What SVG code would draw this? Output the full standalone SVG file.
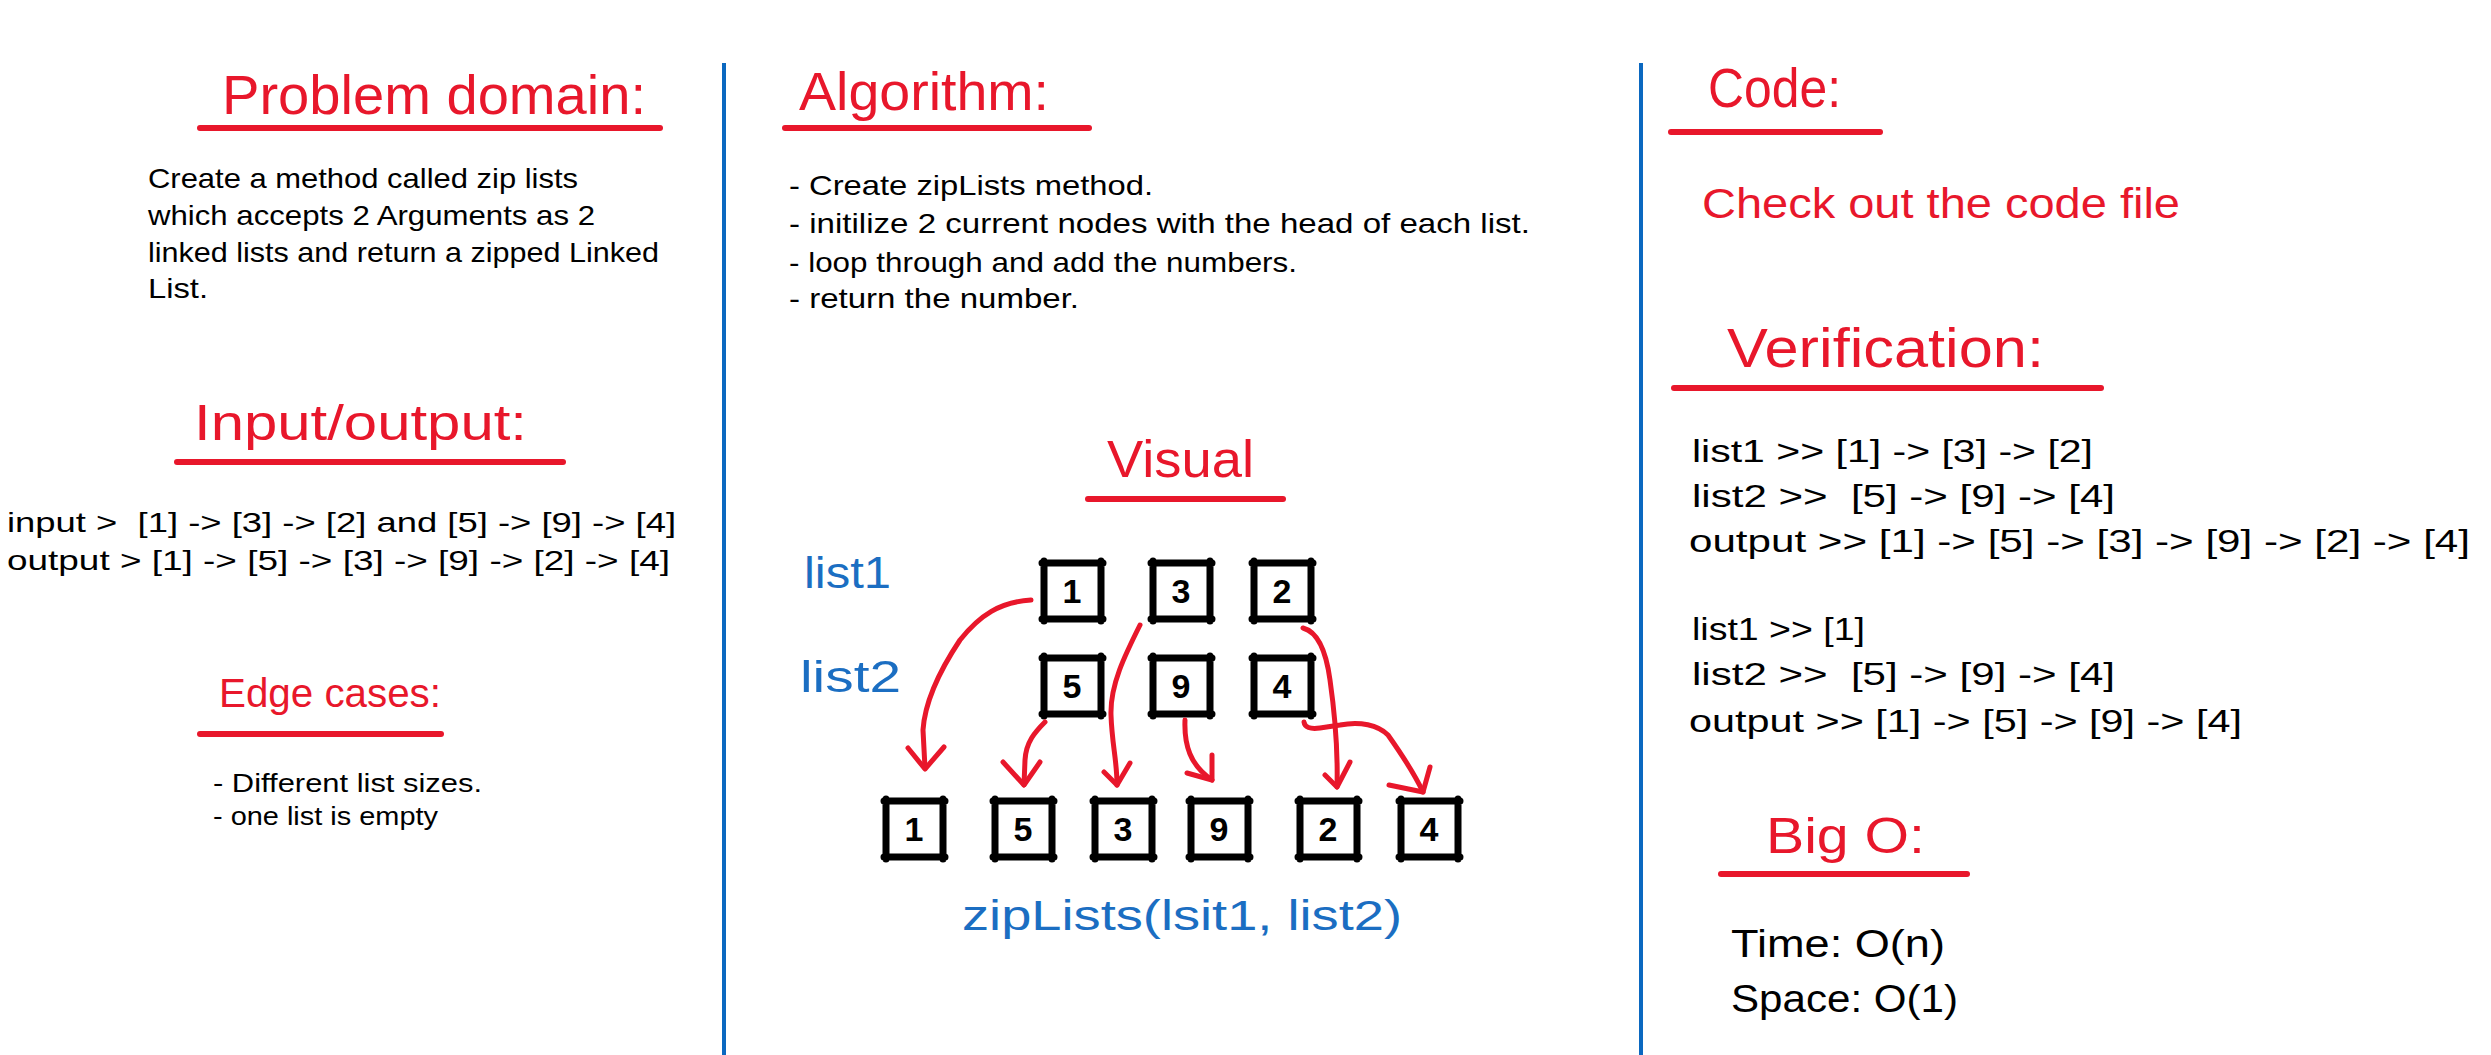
<svg xmlns="http://www.w3.org/2000/svg" xmlns:xlink="http://www.w3.org/1999/xlink" width="2491" height="1055" viewBox="0 0 2491 1055">
<style>
  text { font-family: "Liberation Sans", Arial, sans-serif; white-space: pre; }
  .head { fill: #e8172b; }
  .red { fill: #e8172b; }
  .body { fill: #000000; }
  .blue { fill: #1b6ec2; }
  .uline { stroke: #e8172b; stroke-width: 6; stroke-linecap: round; fill: none; }
  .divider { stroke: #0b68c0; stroke-width: 4; fill: none; }
  .box { stroke: #000; stroke-width: 7; stroke-linecap: round; fill: none; }
  .digit { font-weight: bold; font-size: 34px; fill: #000; text-anchor: middle; }
  .arrow { stroke: #e8172b; stroke-width: 5; stroke-linecap: round; stroke-linejoin: round; fill: none; }
</style>
<defs>
  <path id="box" class="box" d="M-2,0 H59 M57,-2 V58 M59,56 H-2 M0,58 V-2"/>
</defs>
<rect width="2491" height="1055" fill="#ffffff"/>

<g id="dividers">
  <line class="divider" x1="724" y1="63" x2="724" y2="1055"/>
  <line class="divider" x1="1641" y1="63" x2="1641" y2="1055"/>
</g>

<g id="problem-domain">
  <text class="head" x="222" y="114" font-size="56" textLength="424" lengthAdjust="spacingAndGlyphs">Problem domain:</text>
  <line class="uline" x1="200" y1="128" x2="660" y2="128"/>
  <text class="body" x="148" y="188" font-size="28" textLength="430" lengthAdjust="spacingAndGlyphs">Create a method called zip lists</text>
  <text class="body" x="148" y="225" font-size="28" textLength="447" lengthAdjust="spacingAndGlyphs">which accepts 2 Arguments as 2</text>
  <text class="body" x="148" y="262" font-size="28" textLength="511" lengthAdjust="spacingAndGlyphs">linked lists and return a zipped Linked</text>
  <text class="body" x="148" y="298" font-size="28" textLength="60" lengthAdjust="spacingAndGlyphs">List.</text>
</g>

<g id="input-output">
  <text class="head" x="194" y="440" font-size="50" textLength="333" lengthAdjust="spacingAndGlyphs">Input/output:</text>
  <line class="uline" x1="177" y1="462" x2="563" y2="462"/>
  <text class="body" x="7" y="532" font-size="28" textLength="669" lengthAdjust="spacingAndGlyphs" xml:space="preserve">input &gt;  [1] -&gt; [3] -&gt; [2] and [5] -&gt; [9] -&gt; [4]</text>
  <text class="body" x="7" y="570" font-size="28" textLength="663" lengthAdjust="spacingAndGlyphs">output &gt; [1] -&gt; [5] -&gt; [3] -&gt; [9] -&gt; [2] -&gt; [4]</text>
</g>

<g id="edge-cases">
  <text class="head" x="219" y="707" font-size="40" textLength="222" lengthAdjust="spacingAndGlyphs">Edge cases:</text>
  <line class="uline" x1="200" y1="734" x2="441" y2="734"/>
  <text class="body" x="213" y="792" font-size="26" textLength="269" lengthAdjust="spacingAndGlyphs">- Different list sizes.</text>
  <text class="body" x="213" y="825" font-size="26" textLength="225" lengthAdjust="spacingAndGlyphs">- one list is empty</text>
</g>

<g id="algorithm">
  <text class="head" x="799" y="110" font-size="54" textLength="250" lengthAdjust="spacingAndGlyphs">Algorithm:</text>
  <line class="uline" x1="785" y1="128" x2="1089" y2="128"/>
  <text class="body" x="789" y="195" font-size="28" textLength="364" lengthAdjust="spacingAndGlyphs">- Create zipLists method.</text>
  <text class="body" x="789" y="233" font-size="28" textLength="741" lengthAdjust="spacingAndGlyphs">- initilize 2 current nodes with the head of each list.</text>
  <text class="body" x="789" y="272" font-size="28" textLength="508" lengthAdjust="spacingAndGlyphs">- loop through and add the numbers.</text>
  <text class="body" x="789" y="308" font-size="28" textLength="290" lengthAdjust="spacingAndGlyphs">- return the number.</text>
</g>

<g id="visual">
  <text class="head" x="1107" y="477" font-size="52" textLength="147" lengthAdjust="spacingAndGlyphs">Visual</text>
  <line class="uline" x1="1088" y1="499" x2="1283" y2="499"/>
  <text class="blue" x="804" y="588" font-size="44" textLength="87" lengthAdjust="spacingAndGlyphs">list1</text>
  <text class="blue" x="800" y="692" font-size="44" textLength="101" lengthAdjust="spacingAndGlyphs">list2</text>
  <text class="blue" x="962" y="930" font-size="42" textLength="440" lengthAdjust="spacingAndGlyphs">zipLists(lsit1, list2)</text>
</g>

<g id="node-l1-1"><use xlink:href="#box" x="1044" y="563"/><text class="digit" x="1072" y="603">1</text></g>
<g id="node-l1-3"><use xlink:href="#box" x="1153" y="563"/><text class="digit" x="1181" y="603">3</text></g>
<g id="node-l1-2"><use xlink:href="#box" x="1254" y="563"/><text class="digit" x="1282" y="603">2</text></g>
<g id="node-l2-5"><use xlink:href="#box" x="1044" y="658"/><text class="digit" x="1072" y="698">5</text></g>
<g id="node-l2-9"><use xlink:href="#box" x="1153" y="658"/><text class="digit" x="1181" y="698">9</text></g>
<g id="node-l2-4"><use xlink:href="#box" x="1254" y="658"/><text class="digit" x="1282" y="698">4</text></g>
<g id="node-z-1"><use xlink:href="#box" x="886" y="801"/><text class="digit" x="914" y="841">1</text></g>
<g id="node-z-5"><use xlink:href="#box" x="995" y="801"/><text class="digit" x="1023" y="841">5</text></g>
<g id="node-z-3"><use xlink:href="#box" x="1095" y="801"/><text class="digit" x="1123" y="841">3</text></g>
<g id="node-z-9"><use xlink:href="#box" x="1191" y="801"/><text class="digit" x="1219" y="841">9</text></g>
<g id="node-z-2"><use xlink:href="#box" x="1300" y="801"/><text class="digit" x="1328" y="841">2</text></g>
<g id="node-z-4"><use xlink:href="#box" x="1401" y="801"/><text class="digit" x="1429" y="841">4</text></g>

<g id="connectors">
  <path class="arrow" d="M1031,600 C1000,602 980,615 960,640 C940,670 925,700 923,730 L925,768"/>
  <path class="arrow" d="M908,748 L925,769 L944,747"/>
  <path class="arrow" d="M1045,722 C1035,732 1026,742 1025,760 L1024,785"/>
  <path class="arrow" d="M1003,762 L1024,785 L1040,762"/>
  <path class="arrow" d="M1140,625 C1125,655 1110,685 1111,715 C1112,745 1117,760 1117,785"/>
  <path class="arrow" d="M1104,772 L1117,785 L1130,763"/>
  <path class="arrow" d="M1185,720 C1184,745 1190,765 1212,780"/>
  <path class="arrow" d="M1187,773 L1212,780 L1212,755"/>
  <path class="arrow" d="M1303,628 C1318,632 1326,650 1330,680 C1335,715 1338,750 1337,787"/>
  <path class="arrow" d="M1325,775 L1337,787 L1350,762"/>
  <path class="arrow" d="M1304,722 Q1305,730 1320,728 L1340,725 C1360,721 1378,725 1388,735 C1400,752 1415,775 1423,792"/>
  <path class="arrow" d="M1389,785 L1423,792 L1430,767"/>
</g>

<g id="code">
  <text class="head" x="1708" y="107" font-size="56" textLength="133" lengthAdjust="spacingAndGlyphs">Code:</text>
  <line class="uline" x1="1671" y1="132" x2="1880" y2="132"/>
  <text class="red" x="1702" y="218" font-size="42" textLength="478" lengthAdjust="spacingAndGlyphs">Check out the code file</text>
</g>

<g id="verification">
  <text class="head" x="1727" y="367" font-size="56" textLength="317" lengthAdjust="spacingAndGlyphs">Verification:</text>
  <line class="uline" x1="1674" y1="388" x2="2101" y2="388"/>
  <text class="body" x="1692" y="462" font-size="31" textLength="401" lengthAdjust="spacingAndGlyphs">list1 &gt;&gt; [1] -&gt; [3] -&gt; [2]</text>
  <text class="body" x="1692" y="507" font-size="31" textLength="423" lengthAdjust="spacingAndGlyphs" xml:space="preserve">list2 &gt;&gt;  [5] -&gt; [9] -&gt; [4]</text>
  <text class="body" x="1689" y="552" font-size="31" textLength="781" lengthAdjust="spacingAndGlyphs">output &gt;&gt; [1] -&gt; [5] -&gt; [3] -&gt; [9] -&gt; [2] -&gt; [4]</text>
  <text class="body" x="1692" y="640" font-size="31" textLength="173" lengthAdjust="spacingAndGlyphs">list1 &gt;&gt; [1]</text>
  <text class="body" x="1692" y="685" font-size="31" textLength="423" lengthAdjust="spacingAndGlyphs" xml:space="preserve">list2 &gt;&gt;  [5] -&gt; [9] -&gt; [4]</text>
  <text class="body" x="1689" y="732" font-size="31" textLength="553" lengthAdjust="spacingAndGlyphs">output &gt;&gt; [1] -&gt; [5] -&gt; [9] -&gt; [4]</text>
</g>

<g id="big-o">
  <text class="head" x="1766" y="853" font-size="50" textLength="159" lengthAdjust="spacingAndGlyphs">Big O:</text>
  <line class="uline" x1="1721" y1="874" x2="1967" y2="874"/>
  <text class="body" x="1731" y="957" font-size="38" textLength="214" lengthAdjust="spacingAndGlyphs">Time: O(n)</text>
  <text class="body" x="1731" y="1012" font-size="38" textLength="227" lengthAdjust="spacingAndGlyphs">Space: O(1)</text>
</g>
</svg>
